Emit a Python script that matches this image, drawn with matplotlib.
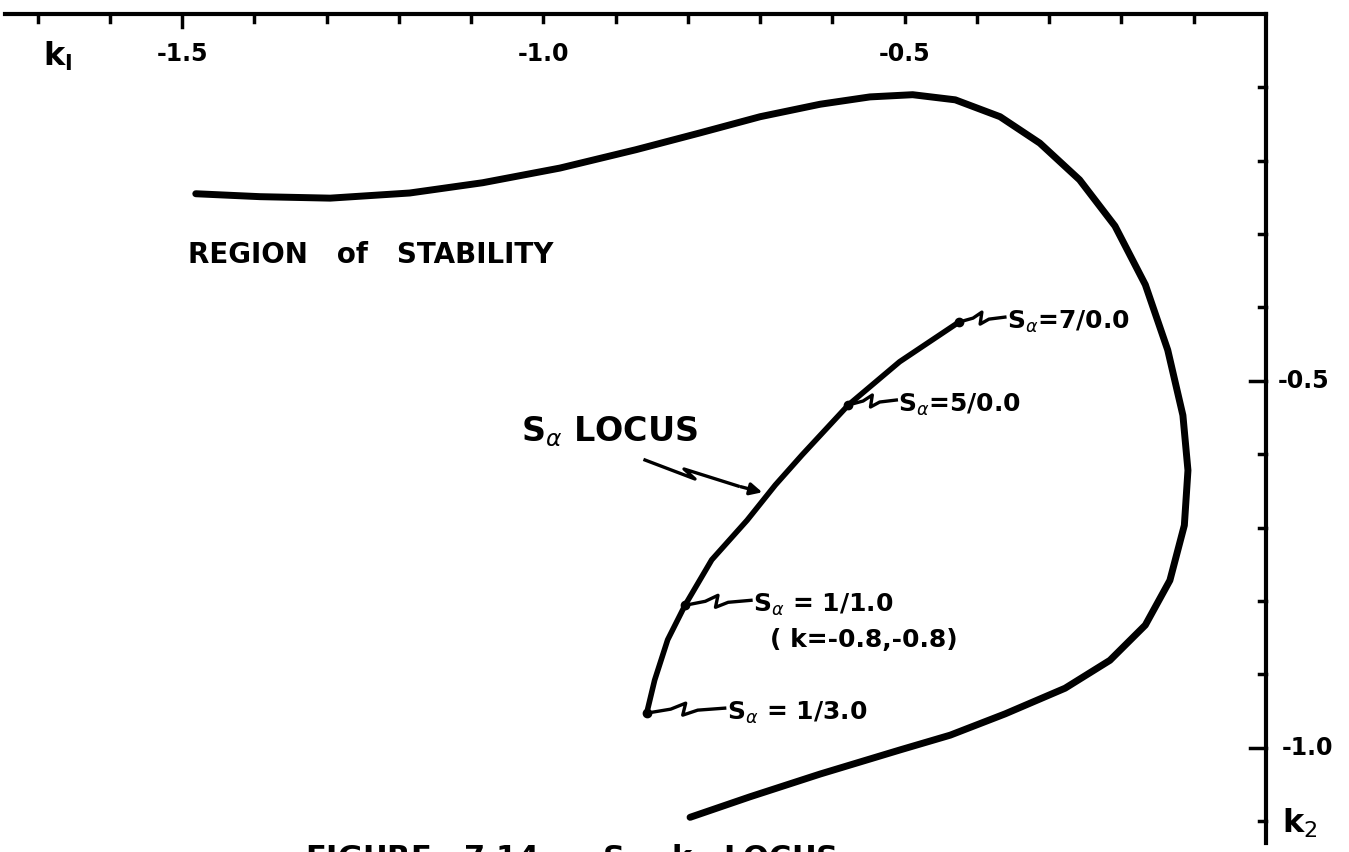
import matplotlib.pyplot as plt
import numpy as np

# stability boundary in the (k1, k2) plane
bound_k1 = [-1.481, -1.392, -1.295, -1.185, -1.084, -0.977, -0.872, -0.783, -0.700,
            -0.617, -0.548, -0.489, -0.430, -0.368, -0.313, -0.258, -0.209, -0.167,
            -0.136, -0.115, -0.108, -0.113, -0.133, -0.167, -0.216, -0.278, -0.361,
            -0.437, -0.506, -0.617, -0.714, -0.797]
bound_k2 = [-0.245, -0.249, -0.251, -0.244, -0.230, -0.210, -0.185, -0.162, -0.140,
            -0.123, -0.113, -0.110, -0.117, -0.140, -0.176, -0.226, -0.289, -0.369,
            -0.458, -0.547, -0.622, -0.697, -0.772, -0.833, -0.881, -0.919, -0.954,
            -0.983, -1.003, -1.036, -1.067, -1.095]

# S_alpha locus
loc_k1 = [-0.857, -0.846, -0.828, -0.804, -0.767, -0.718, -0.679, -0.642, -0.578, -0.507, -0.425]
loc_k2 = [-0.953, -0.908, -0.853, -0.806, -0.744, -0.690, -0.642, -0.601, -0.533, -0.474, -0.420]

# marked points on the locus and their labels
pt_k1 = [-0.425, -0.578, -0.804, -0.857]
pt_k2 = [-0.420, -0.533, -0.806, -0.953]
pt_lab = [r'S$_\alpha$=7/0.0', r'S$_\alpha$=5/0.0', r'S$_\alpha$ = 1/1.0', r'S$_\alpha$ = 1/3.0']

xticks = np.arange(-1.7, -0.05, 0.1)
yticks = np.arange(-0.1, -1.15, -0.1)

W, H = 1349, 852
fig = plt.figure(figsize=(W/100, H/100), dpi=100)
ax = fig.add_axes([5/W, 9/H, 1261/W, 829/H])
ax.set_xlim(-1.745, 0)
ax.set_ylim(-1.13, 0)
sx = 1261/1.745   # px per unit
sy = 829/1.13

for s in ['left', 'bottom']:
    ax.spines[s].set_visible(False)
for s in ['top', 'right']:
    ax.spines[s].set_linewidth(3)
ax.set_xticks([])
ax.set_yticks([])

# hand drawn style ticks
for x in xticks:
    L = 13 if abs(x+1.5) < 0.01 else 8
    ax.plot([x, x], [0, -L/sy], color='k', lw=2.5, clip_on=False)
for y in yticks:
    L = 16 if (abs(y+0.5) < 0.01 or abs(y+1.0) < 0.01) else 7
    ax.plot([0, -L/sx], [y, y], color='k', lw=2.5, clip_on=False)

fb = dict(fontweight='bold', color='k')
for v, t in [(-1.5, '-1.5'), (-1.0, '-1.0'), (-0.5, '-0.5')]:
    ax.text(v, -40/sy, t, ha='center', va='center', fontsize=17, **fb)
ax.text(-1.672, -42/sy, r'k$_\mathregular{l}$', ha='center', va='center', fontsize=23, **fb)
ax.text(12/sx, -0.5, '-0.5', ha='left', va='center', fontsize=17, clip_on=False, **fb)
ax.text(16/sx, -1.0, '-1.0', ha='left', va='center', fontsize=17, clip_on=False, **fb)
ax.text(16/sx, -1.103, r'k$_2$', ha='left', va='center', fontsize=23, clip_on=False, **fb)

ax.plot(bound_k1, bound_k2, color='k', lw=5, solid_capstyle='round', solid_joinstyle='round')
ax.plot(loc_k1, loc_k2, color='k', lw=4, solid_capstyle='round', solid_joinstyle='round')
ax.plot(pt_k1, pt_k2, 'o', color='k', ms=6)

# zigzag leaders from each label to its point (pixel offsets)
zig = np.array([(4, -1), (16, -4), (26, -10), (24, 2), (34, -3), (52, -5)])
lab_dx = [46, 48, 66, 78]
for x, y, lab, d in zip(pt_k1, pt_k2, pt_lab, lab_dx):
    zx = x + zig[:, 0]*d/52/sx
    zy = y - zig[:, 1]/sy
    ax.plot(zx, zy, color='k', lw=2.4)
    ax.text(x + (d+2)/sx, y, lab, ha='left', va='center', fontsize=18, **fb)
ax.text((770-1266)/sx, -(640-14)/sy, '( k=-0.8,-0.8)', ha='left', va='center', fontsize=18, **fb)

ax.text((188-1266)/sx, -(255-14)/sy, 'REGION   of   STABILITY', ha='left', va='center',
        fontsize=20, **fb)
ax.text((521-1266)/sx, -(432-14)/sy, r'S$_\alpha$ LOCUS', ha='left', va='center',
        fontsize=24, **fb)
# lightning arrow to the locus
arr_x = np.array([645, 695, 684, 738, 765])
arr_y = np.array([460, 479, 469, 486, 493])
ax.annotate('', xy=((arr_x[-1]-1266)/sx, -(arr_y[-1]-14)/sy),
            xytext=((arr_x[-2]-1266)/sx, -(arr_y[-2]-14)/sy),
            arrowprops=dict(arrowstyle='-|>', color='k', lw=2.4, mutation_scale=18))
ax.plot((arr_x[:-1]-1266)/sx, -(arr_y[:-1]-14)/sy, color='k', lw=2.4)

fig.text(305/W, 9/H, r'FIGURE   7.14      S$_\alpha$   k   LOCUS', ha='left', va='top',
         fontsize=22, **fb)

fig.savefig('out.png', dpi=100)
